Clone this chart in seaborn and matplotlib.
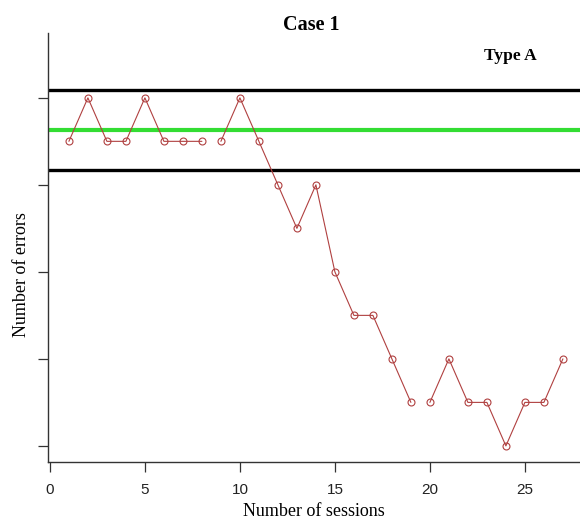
import matplotlib
matplotlib.use("Agg")
import matplotlib.pyplot as plt
import seaborn as sns
import pandas as pd
import numpy as np

sessions = list(range(1, 28))
errors = [7, 8, 7, 7, 8, 7, 7, 7, 7, 8, 7, 6, 5, 6, 4, 3, 3, 2, 1, 1, 2, 1, 1, 0, 1, 1, 2]
segment = [1]*8 + [2]*11 + [3]*8
mean_line = 7.27
upper_line = 8.17
lower_line = 6.33
x_ticks = [0, 5, 10, 15, 20, 25]
y_ticks = [0, 2, 4, 6, 8]

df = pd.DataFrame({"session": sessions, "errors": errors, "seg": segment})

sns.set_style("white")
plt.rcParams['font.family'] = ['Liberation Serif', 'DejaVu Serif']
plt.rcParams['text.color'] = 'black'
plt.rcParams['axes.labelcolor'] = 'black'

fig = plt.figure(figsize=(5.8, 5.3), dpi=100)
ax = fig.add_axes([48/580, 68/530, (580-48)/580, (462-33)/530])

red = "#B04040"
sns.lineplot(data=df, x="session", y="errors", units="seg", estimator=None,
             color=red, lw=0.8, marker="o", markersize=5,
             markerfacecolor="none", markeredgecolor=red, markeredgewidth=0.8,
             ax=ax, legend=False, zorder=3)

ax.axhline(upper_line, color="black", lw=2.4, zorder=2)
ax.axhline(lower_line, color="black", lw=2.4, zorder=2)
ax.axhline(mean_line, color="#33DD33", lw=3, zorder=2)

ax.set_xlim(-0.1, 27.9)
ax.set_ylim(-0.37, 9.49)
ax.set_xticks(x_ticks)
ax.set_xticklabels([str(t) for t in x_ticks], fontfamily="Liberation Sans", fontsize=11, color="#222222")
ax.set_yticks(y_ticks)
ax.set_yticklabels([])
ax.tick_params(axis="both", direction="out", length=7, width=0.9, color="#333333", pad=8)
ax.tick_params(axis="x", bottom=True)
ax.tick_params(axis="y", left=True)

for s in ["top", "right"]:
    ax.spines[s].set_visible(False)
for s in ["left", "bottom"]:
    ax.spines[s].set_color("#333333")
    ax.spines[s].set_linewidth(1.0)

ax.set_xlabel("Number of sessions", fontsize=13, color="black")
ax.set_ylabel("Number of errors", fontsize=13, color="black")
ax.xaxis.set_label_coords(0.5, -(512-462)/429, transform=ax.transAxes)
ax.xaxis.label.set_va("center")
ax.yaxis.set_label_coords((22-48)/532, (462-275)/429, transform=ax.transAxes)
ax.yaxis.label.set_va("center")

fig.text(311/580, 1 - 25/530, "Case 1", ha="center", va="center", fontsize=14.5, fontweight="bold", color="black")
fig.text(510/580, 1 - 56/530, "Type A", ha="center", va="center", fontsize=12.5, fontweight="bold", color="black")

fig.savefig("out.png", dpi=100)
